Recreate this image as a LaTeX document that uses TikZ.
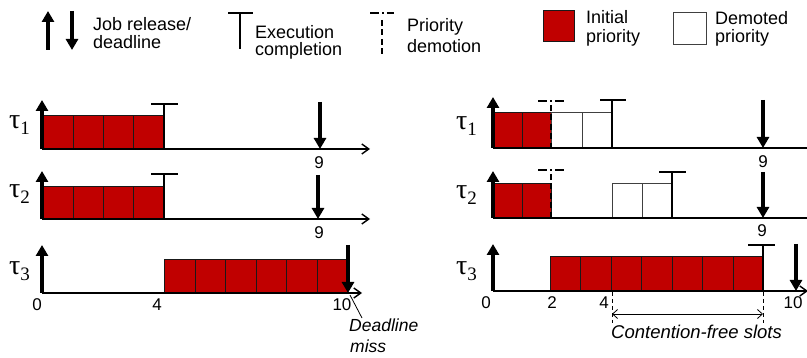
\documentclass[tikz,border=0pt]{standalone}
\usepackage{fontspec}
\setmainfont{Liberation Sans}
\newfontfamily\serifgreek{Liberation Serif}
\usetikzlibrary{arrows.meta}
\definecolor{boxred}{RGB}{192,0,0}
\newcommand\tasklbl[1]{{\serifgreek\fontsize{28}{28}\selectfont τ}\raisebox{-6pt}{\serifgreek\fontsize{19}{19}\selectfont #1}}
\begin{document}
\begin{tikzpicture}[x=1pt,y=-1pt,
  lbl/.style={font=\fontsize{18}{20}\selectfont, inner sep=0pt, anchor=base west},
  num/.style={font=\fontsize{17}{19}\selectfont, inner sep=0pt},
  ital/.style={font=\fontsize{17.5}{20}\selectfont\itshape, inner sep=0pt, anchor=base west},
  tlbl/.style={inner sep=0pt, anchor=base west},
  axisline/.style={line width=2pt, -{Straight Barb[length=7pt,width=10pt,line width=1.4pt]}},
  evt/.style={line width=3.5pt, -{Triangle[length=11pt,width=12pt]}},
  compl/.style={line width=2pt},
  demote/.style={line width=1.6pt, dash pattern=on 6pt off 3.5pt},
  demotetop/.style={line width=2pt, dash pattern=on 9pt off 3pt on 1.8pt off 3pt on 9pt},
  redbox/.style={draw=black!90, line width=1pt, fill=boxred, inner sep=0pt, anchor=south west},
  whitebox/.style={draw=black!75, line width=1.2pt, fill=white, inner sep=0pt, anchor=south west},
  thinline/.style={line width=0.8pt},
  guide/.style={line width=0.8pt, dash pattern=on 4pt off 3pt},
  span/.style={line width=0.8pt, {Straight Barb[length=5pt,width=9pt]}-{Straight Barb[length=5pt,width=9pt]}}
]
\useasboundingbox (0,0) rectangle (807,358);

% ---------------- Legend ----------------
\coordinate (lgA1) at (48,50); \coordinate (lgA2) at (48,11);
\coordinate (lgB1) at (72,11); \coordinate (lgB2) at (72,50);
\draw[evt] (lgA1) -- (lgA2);
\draw[evt] (lgB1) -- (lgB2);
\node[lbl] (lgJ1) at (93,31) {Job release/};
\node[lbl] (lgJ2) at (93,49) {deadline};

\coordinate (lgT1) at (240,49); \coordinate (lgT2) at (240,13);
\coordinate (lgT3) at (228,13); \coordinate (lgT4) at (253,13);
\draw[compl] (lgT1) -- (lgT2);
\draw[compl] (lgT3) -- (lgT4);
\node[lbl] (lgE1) at (255,39) {Execution};
\node[lbl] (lgE2) at (255,56) {completion};

\coordinate (lgD1) at (370,13); \coordinate (lgD2) at (394,13);
\coordinate (lgD3) at (382,20); \coordinate (lgD4) at (382,58);
\draw[demotetop] (lgD1) -- (lgD2);
\draw[demote] (lgD3) -- (lgD4);
\node[lbl] (lgP1) at (407,32) {Priority};
\node[lbl] (lgP2) at (407,53) {demotion};

\node[redbox, anchor=north west, minimum width=31pt, minimum height=31pt] (lgR) at (543,10) {};
\node[lbl] (lgI1) at (586,24) {Initial};
\node[lbl] (lgI2) at (586,43) {priority};
\node[whitebox, anchor=north west, minimum width=33pt, minimum height=32pt] (lgW) at (673,12) {};
\node[lbl] (lgM1) at (715,25) {Demoted};
\node[lbl] (lgM2) at (715,43) {priority};

% ---------------- Left panel ----------------
\node[tlbl] (Lt1) at (9,129) {\tasklbl{1}};
\node[tlbl] (Lt2) at (9,198) {\tasklbl{2}};
\node[tlbl] (Lt3) at (9,275) {\tasklbl{3}};

% row 1
\foreach \i in {0,...,3} \node[redbox, minimum width=30pt, minimum height=33pt] (L1b\i) at (43+30*\i,149) {};
\coordinate (L1o) at (42,149); \coordinate (L1e) at (370,149); \coordinate (L1u) at (42,100);
\draw[axisline] (L1o) -- (L1e);
\draw[evt] (L1o) -- (L1u);
\coordinate (L1c1) at (164,149); \coordinate (L1c2) at (164,104);
\coordinate (L1c3) at (151,104); \coordinate (L1c4) at (178,104);
\draw[compl] (L1c1) -- (L1c2); \draw[compl] (L1c3) -- (L1c4);
\coordinate (L1d1) at (320,102); \coordinate (L1d2) at (320,149);
\draw[evt] (L1d1) -- (L1d2);
\node[num] (L1n9) at (319,163) {9};

% row 2
\foreach \i in {0,...,3} \node[redbox, minimum width=30pt, minimum height=32pt] (L2b\i) at (43+30*\i,219) {};
\coordinate (L2o) at (42,219); \coordinate (L2e) at (370,219); \coordinate (L2u) at (42,171);
\draw[axisline] (L2o) -- (L2e);
\draw[evt] (L2o) -- (L2u);
\coordinate (L2c1) at (164,219); \coordinate (L2c2) at (164,174);
\coordinate (L2c3) at (151,174); \coordinate (L2c4) at (178,174);
\draw[compl] (L2c1) -- (L2c2); \draw[compl] (L2c3) -- (L2c4);
\coordinate (L2d1) at (318,175); \coordinate (L2d2) at (318,219);
\draw[evt] (L2d1) -- (L2d2);
\node[num] (L2n9) at (319,233) {9};

% row 3
\foreach \i in {0,...,5} \node[redbox, minimum width=30.5pt, minimum height=33pt] (L3b\i) at (164+30.5*\i,293) {};
\coordinate (L3o) at (42,293); \coordinate (L3e) at (362,293); \coordinate (L3u) at (42,245);
\draw[axisline] (L3o) -- (L3e);
\draw[evt] (L3o) -- (L3u);
\coordinate (L3d1) at (348,245); \coordinate (L3d2) at (348,293);
\draw[evt] (L3d1) -- (L3d2);
\node[num] (L3n0) at (37,305) {0};
\node[num] (L3n4) at (157,305) {4};
\node[num] (L3n10) at (342,305) {10};
\node[ital] (Lmiss1) at (349,332) {Deadline};
\node[ital] (Lmiss2) at (350,353) {miss};
\coordinate (Lm1) at (362,318); \coordinate (Lm2) at (350,295);
\draw[thinline] (Lm1) -- (Lm2);

% ---------------- Right panel ----------------
\node[tlbl] (Rt1) at (456,130) {\tasklbl{1}};
\node[tlbl] (Rt2) at (456,199) {\tasklbl{2}};
\node[tlbl] (Rt3) at (456,275) {\tasklbl{3}};

% row 1
\foreach \i in {0,1} \node[redbox, minimum width=29.5pt, minimum height=35pt] (R1b\i) at (492+29.5*\i,148) {};
\foreach \i in {0,1} \node[whitebox, minimum width=30.5pt, minimum height=35pt] (R1w\i) at (551+30.5*\i,148) {};
\coordinate (R1o) at (493,148); \coordinate (R1e) at (816,148); \coordinate (R1u) at (493,97);
\draw[axisline] (R1o) -- (R1e);
\draw[evt] (R1o) -- (R1u);
\coordinate (R1p1) at (551,105); \coordinate (R1p2) at (551,148);
\coordinate (R1p3) at (538,101); \coordinate (R1p4) at (564,101);
\draw[demote] (R1p1) -- (R1p2); \draw[demotetop] (R1p3) -- (R1p4);
\coordinate (R1c1) at (612,148); \coordinate (R1c2) at (612,100);
\coordinate (R1c3) at (600,100); \coordinate (R1c4) at (626,100);
\draw[compl] (R1c1) -- (R1c2); \draw[compl] (R1c3) -- (R1c4);
\coordinate (R1d1) at (763,100); \coordinate (R1d2) at (763,148);
\draw[evt] (R1d1) -- (R1d2);
\node[num] (R1n9) at (763,162) {9};

% row 2
\foreach \i in {0,1} \node[redbox, minimum width=29.5pt, minimum height=34pt] (R2b\i) at (492+29.5*\i,218) {};
\foreach \i in {0,1} \node[whitebox, minimum width=30pt, minimum height=34pt] (R2w\i) at (612+30*\i,218) {};
\coordinate (R2o) at (493,218); \coordinate (R2e) at (816,218); \coordinate (R2u) at (493,171);
\draw[axisline] (R2o) -- (R2e);
\draw[evt] (R2o) -- (R2u);
\coordinate (R2p1) at (551,174); \coordinate (R2p2) at (551,218);
\coordinate (R2p3) at (538,170); \coordinate (R2p4) at (564,170);
\draw[demote] (R2p1) -- (R2p2); \draw[demotetop] (R2p3) -- (R2p4);
\coordinate (R2c1) at (672,218); \coordinate (R2c2) at (672,172);
\coordinate (R2c3) at (659,172); \coordinate (R2c4) at (686,172);
\draw[compl] (R2c1) -- (R2c2); \draw[compl] (R2c3) -- (R2c4);
\coordinate (R2d1) at (763,172); \coordinate (R2d2) at (763,218);
\draw[evt] (R2d1) -- (R2d2);
\node[num] (R2n9) at (762,231) {9};

% row 3
\foreach \i in {0,...,6} \node[redbox, minimum width=30.43pt, minimum height=34pt] (R3b\i) at (550+30.43*\i,291) {};
\coordinate (R3o) at (493,291); \coordinate (R3e) at (808,291); \coordinate (R3u) at (493,244);
\draw[axisline] (R3o) -- (R3e);
\draw[evt] (R3o) -- (R3u);
\coordinate (R3c1) at (763,291); \coordinate (R3c2) at (763,245);
\coordinate (R3c3) at (748,245); \coordinate (R3c4) at (775,245);
\draw[compl] (R3c1) -- (R3c2); \draw[compl] (R3c3) -- (R3c4);
\coordinate (R3d1) at (796,244); \coordinate (R3d2) at (796,291);
\draw[evt] (R3d1) -- (R3d2);
\node[num] (R3n0) at (486,303) {0};
\node[num] (R3n2) at (552,303) {2};
\node[num] (R3n4) at (604,303) {4};
\node[num] (R3n10) at (793,303) {10};
\coordinate (R3g1) at (612,292); \coordinate (R3g2) at (612,323);
\coordinate (R3g3) at (763,292); \coordinate (R3g4) at (763,323);
\draw[guide] (R3g1) -- (R3g2);
\draw[guide] (R3g3) -- (R3g4);
\coordinate (R3s1) at (612,314); \coordinate (R3s2) at (763,314);
\draw[span] (R3s1) -- (R3s2);
\node[ital, font=\fontsize{18.5}{20}\selectfont\itshape] (Rcf) at (611,339) {Contention-free slots};
\end{tikzpicture}
\end{document}
